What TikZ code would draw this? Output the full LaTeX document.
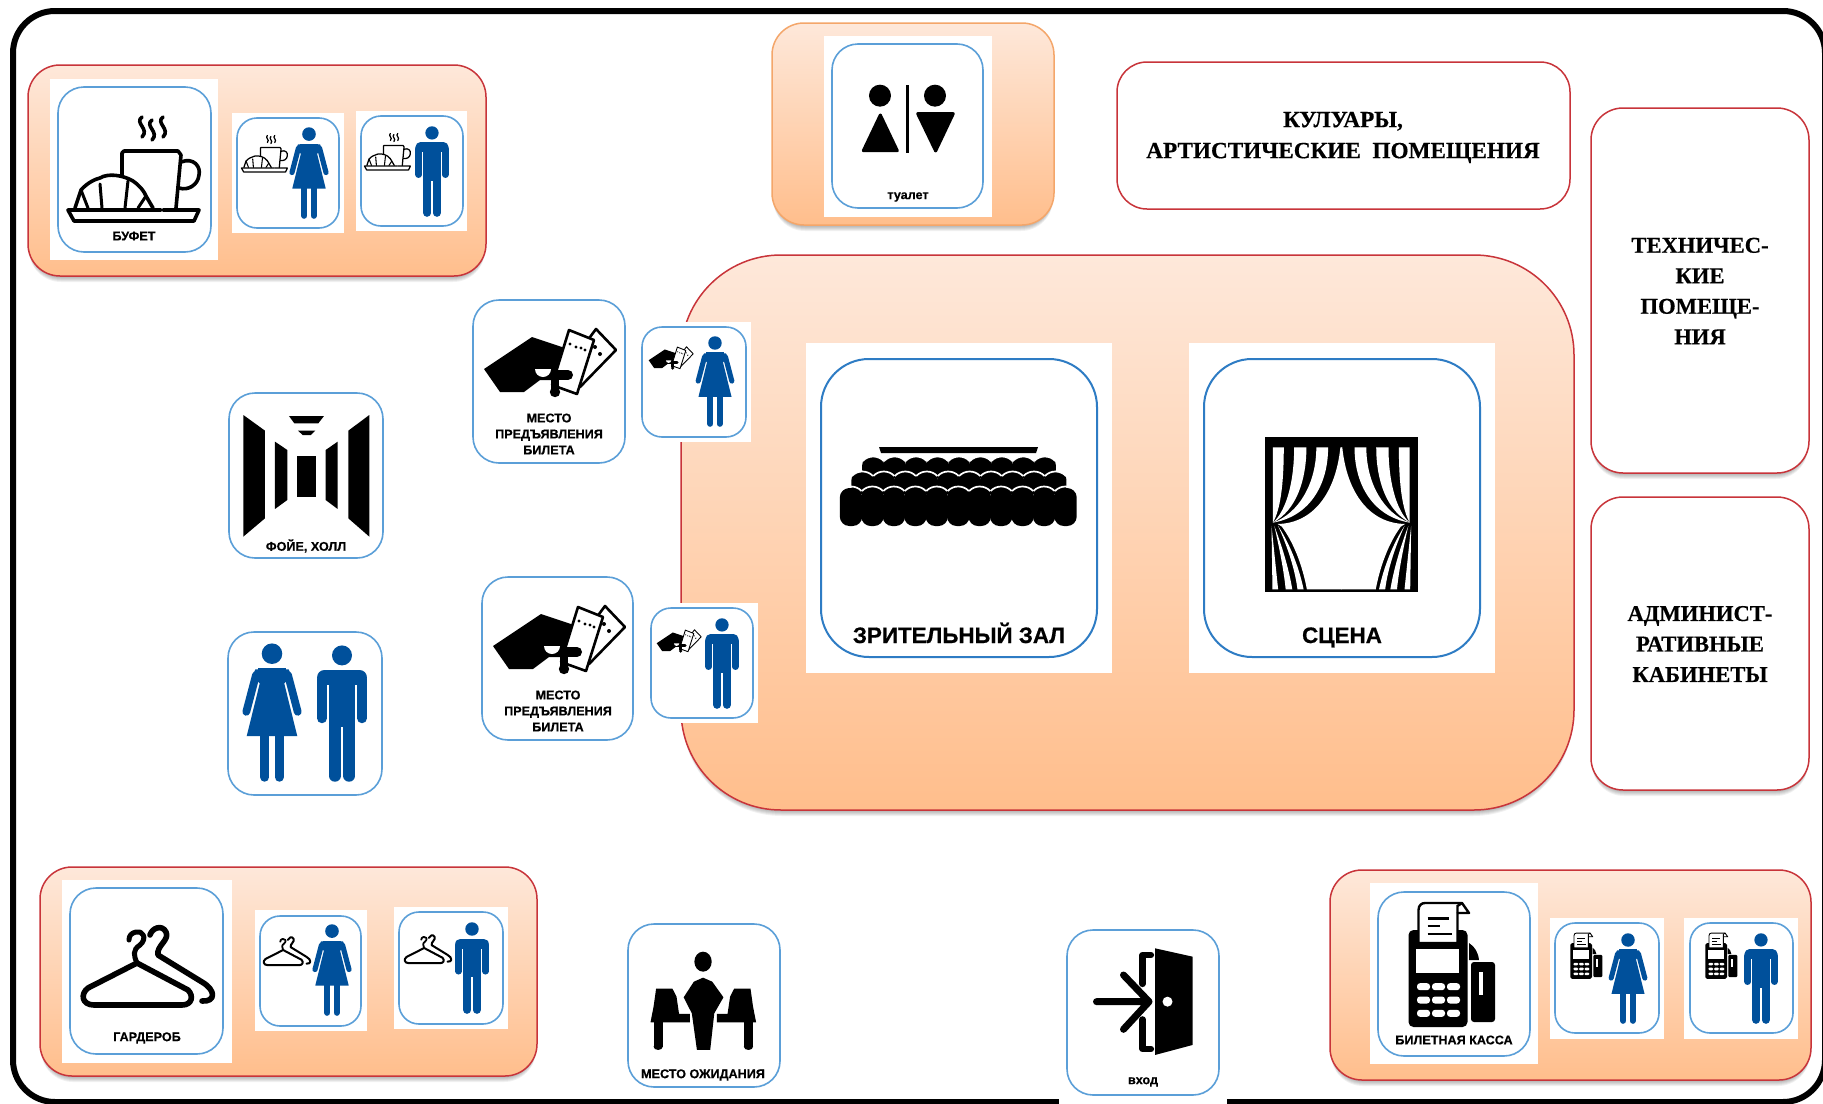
\documentclass[tikz,border=0pt]{standalone}
\usepackage{fontspec}
\setmainfont{Liberation Sans}
\newfontfamily\heavyfam{Liberation Sans Bold}[FakeBold=0.6]
\newfontfamily\timesfam{Liberation Serif Bold}[FakeBold=0.5]
\usetikzlibrary{calc}
\definecolor{zonered}{HTML}{C8343A}
\definecolor{zonetop}{HTML}{FEE8DA}
\definecolor{zonebot}{HTML}{FFBE8C}
\definecolor{zoneorange}{HTML}{F4A66A}
\definecolor{cardblue}{HTML}{5B9FD8}
\definecolor{bigblue}{HTML}{2E7CC4}
\definecolor{figblue}{HTML}{00509B}
\tikzset{
  zonebox/.style={draw=zonered,line width=1.5pt,top color=zonetop,bottom color=zonebot},
  orangebox/.style={draw=zoneorange,line width=1.5pt,top color=zonetop,bottom color=zonebot},
  roombox/.style={draw=zonered,line width=1.5pt,fill=white},
  cardbox/.style={draw=cardblue,line width=1.6pt,fill=white},
  bigcard/.style={draw=bigblue,line width=2pt,fill=white},
  lab/.style={inner sep=0pt,align=center,font=\heavyfam\fontsize{12.6}{16}\selectfont},
  biglab/.style={inner sep=0pt,anchor=base,font=\heavyfam\fontsize{22.4}{24}\selectfont},
  roomlab/.style={inner sep=0pt,font=\timesfam\fontsize{22.6}{30.5}\selectfont},
  ink/.style={line cap=round,line join=round},
}
\newcommand{\softshadow}[5]{%
  \foreach \off in {1,2,3,4,5,6}{
    \fill[black,opacity=0.055,rounded corners=#5pt] ($(#1,#2)+(1,\off)$) rectangle ($(#3,#4)+(-1,\off)$);
  }}
\newcommand{\woman}[3]{%
  \pgfmathsetmacro\ics{#3/100}
  \begin{scope}[shift={(#1,#2)},scale=\ics,figblue]
    \fill[figblue] (0,7.7) circle (7.4);
    \fill[figblue] (-12,19)--(12,19)--(14,24)--(8.8,29)--(18.2,67)--(-18.2,67)--(-8.8,29)--(-14,24)--cycle;
    \fill[figblue] (-10,18) rectangle (10,22);
    \draw[figblue,ink,line width=5.6pt*\ics] (-11.5,23)--(-18.5,49.5);
    \draw[figblue,ink,line width=5.6pt*\ics] (11.5,23)--(18.5,49.5);
    \draw[figblue,ink,line width=6.6pt*\ics] (-5.2,66)--(-5.2,96.5);
    \draw[figblue,ink,line width=6.6pt*\ics] (5.2,66)--(5.2,96.5);
  \end{scope}}
\newcommand{\man}[3]{%
  \pgfmathsetmacro\ics{#3/100}
  \begin{scope}[shift={(#1,#2)},scale=\ics]
    \fill[figblue] (0,7.6) circle (7.3);
    \draw[figblue,ink,line width=11pt*\ics] (-12.7,23.5)--(12.7,23.5);
    \fill[figblue] (-9.6,22) rectangle (9.6,60);
    \draw[figblue,ink,line width=7.2pt*\ics] (-14.6,25)--(-14.6,53.5);
    \draw[figblue,ink,line width=7.2pt*\ics] (14.6,25)--(14.6,53.5);
    \draw[figblue,ink,line width=8.6pt*\ics] (-5.2,57)--(-5.2,95.5);
    \draw[figblue,ink,line width=8.6pt*\ics] (5.2,57)--(5.2,95.5);
  \end{scope}}
\newcommand{\iconbuffet}[3]{%
  \begin{scope}[shift={(#1,#2)},scale=#3]
    \def\ics{#3}
    \foreach \sx/\sy in {84/30,94/33,105/30}{
      \draw[ink,line width=3.6pt*\ics] (\sx,\sy) .. controls (\sx-8,\sy+6) and (\sx+8,\sy+12) .. (\sx,\sy+20);
    }
    \draw[ink,line width=3.6pt*\ics] (64,100)--(64,66) -- (66,64) -- (120,64) -- (123,68) -- (118,121);
    \draw[ink,line width=3.6pt*\ics] (123,75) .. controls (136,70) and (143,80) .. (141,88) .. controls (140,98) and (130,104) .. (121,101);
    \draw[ink,line width=3.6pt*\ics,fill=white] (17,121) -- (23,103) .. controls (30,95) and (38,92) .. (42,91) .. controls (50,86) and (65,88) .. (75,94) .. controls (82,99) and (86,104) .. (88,109) -- (95,121);
    \draw[ink,line width=3pt*\ics] (23,103)--(30,121) (42,97)--(44,121) (70,94)--(67,121) (88,109)--(80,121);
    \draw[ink,line width=3.6pt*\ics] (105,123)--(141,123)--(136,134)--(16,134)--(10,123)--(103,123);
  \end{scope}}
\newcommand{\iconticket}[3]{%
  \begin{scope}[shift={(#1,#2)},scale=#3]
    \def\ics{#3}
    \draw[line join=round,line width=2.6pt*\ics,fill=white] (123,29)--(143,50)--(107,87)--(100,60)--cycle;
    \fill[black] (122,47) circle (2) (127,54) circle (2);
    \fill[black,line join=round] (11,69)--(59,37)--(92,48)--(85,80)--(67,80)--(51,92)--(27,92)--cycle;
    \draw[line join=round,line width=2.6pt*\ics,fill=white] (96,30)--(121,40)--(104,94)--(79,85)--cycle;
    \fill[black] (97,44) circle (1.7) (103,47) circle (1.7) (108,48) circle (1.7) (112,50) circle (1.7);
    \draw[ink,line width=10pt*\ics] (68,75)--(95,75);
    \fill[black] (82,92) circle (5.2);
    \fill[black] (78,76) rectangle (86,90);
    \fill[white] (62,69) arc (180:0:8) -- cycle;
  \end{scope}}
\newcommand{\iconhanger}[3]{%
  \begin{scope}[shift={(#1,#2)},scale=#3]
    \def\ics{#3}
    \draw[ink,line width=5.6pt*\ics] (80,47) .. controls (82,40) and (92,36) .. (96,44) .. controls (100,52) and (86,58) .. (88,67) -- (132,94) .. controls (146,102) and (146,114) .. (132,113);
    \draw[ink,line width=5.6pt*\ics] (67,75) -- (118,102) .. controls (124,108) and (122,117) .. (112,117) -- (24,117) .. controls (12,117) and (10,106) .. (18,100) -- cycle;
    \draw[ink,line width=5pt*\ics] (67,75) .. controls (64,68) and (62,62) .. (70,57) .. controls (78,50) and (72,42) .. (66,44) .. controls (61,45) and (59,48) .. (59,52);
  \end{scope}}
\newcommand{\iconpos}[3]{%
  \begin{scope}[shift={(#1,#2)},scale=#3]
    \def\ics{#3}
    \fill[black] (91,51) .. controls (97,55) and (100,60) .. (101,68) -- (91,68) -- cycle;
    \fill[black,rounded corners=3pt*\ics] (93,70) rectangle (117,130);
    \fill[white] (100.5,80) rectangle (104.5,103);
    \fill[black,rounded corners=5pt*\ics] (30.5,38) rectangle (89.5,135);
    \fill[white] (38,57) rectangle (81,81);
    \foreach \ky in {94.7,108,121.3}{
      \foreach \kx in {45.5,60.5,75.5}{
        \fill[white,rounded corners=3pt*\ics] (\kx-6.5,\ky-3.5) rectangle (\kx+6.5,\ky+3.5);
      }}
    \draw[line join=round,line width=2.4pt*\ics,fill=white] (40.5,51) -- (40.5,18) .. controls (40.5,13) and (44,11) .. (47,11) -- (84,11) -- (91,21) -- (79.5,21) -- (79.5,51) -- cycle;
    \draw[line width=2.4pt*\ics] (79.5,21)--(79.5,14) -- (84,11);
    \draw[line width=2.4pt*\ics] (49.5,26.3)--(71,26.3) (49.5,34)--(62,34) (49.5,42)--(74,42);
  \end{scope}}
\begin{document}
\begin{tikzpicture}[x=1pt,y=-1pt]
\useasboundingbox (0,0) rectangle (1823,1103);
\clip (0,0) rectangle (1823,1103);
\fill[white] (0,0) rectangle (1823,1103);
% outer frame
\draw[black,line width=6pt,rounded corners=42pt] (13,11) rectangle (1825,1102);
\fill[white] (1059,1098) rectangle (1227,1104);

% zones
\softshadow{681}{255}{1574}{810}{100}
\draw[zonebox,rounded corners=100pt] (681,255) rectangle (1574,810);
\softshadow{28}{65}{486}{276}{32}
\draw[zonebox,rounded corners=32pt] (28,65) rectangle (486,276);
\softshadow{40}{867}{537}{1076}{32}
\draw[zonebox,rounded corners=32pt] (40,867) rectangle (537,1076);
\softshadow{1330}{870}{1811}{1080}{32}
\draw[zonebox,rounded corners=32pt] (1330,870) rectangle (1811,1080);
\softshadow{772}{23}{1054}{225}{32}
\draw[orangebox,rounded corners=32pt] (772,23) rectangle (1054,225);
% rooms
\draw[roombox,rounded corners=30pt] (1117,62) rectangle (1570,209);
\softshadow{1591}{108}{1809}{473}{32}
\draw[roombox,rounded corners=32pt] (1591,108) rectangle (1809,473);
\softshadow{1591}{497}{1809}{790}{32}
\draw[roombox,rounded corners=32pt] (1591,497) rectangle (1809,790);
\node[roomlab,align=center,font=\timesfam\fontsize{23.2}{31}\selectfont] (corridor) at (1343,137.5) {КУЛУАРЫ,\\АРТИСТИЧЕСКИЕ\ \ ПОМЕЩЕНИЯ};
\node[roomlab,align=center] (tech) at (1700,291) {ТЕХНИЧЕС-\\КИЕ\\ПОМЕЩЕ-\\НИЯ};
\node[roomlab,align=center] (admin) at (1700,644) {АДМИНИСТ-\\РАТИВНЫЕ\\КАБИНЕТЫ};

% white patches
\fill[white] (50,79) rectangle (218,260);
\fill[white] (232,113) rectangle (344,233);
\fill[white] (356,111) rectangle (467,231);
\fill[white] (637,322) rectangle (751,442);
\fill[white] (644,603) rectangle (758,723);
\fill[white] (806,343) rectangle (1112,673);
\fill[white] (1189,343) rectangle (1495,673);
\fill[white] (62,880) rectangle (232,1063);
\fill[white] (255,910) rectangle (367,1031);
\fill[white] (394,907) rectangle (508,1029);
\fill[white] (1370,883) rectangle (1538,1064);
\fill[white] (1550,918) rectangle (1664,1039);
\fill[white] (1684,918) rectangle (1798,1039);
\fill[white] (824,36) rectangle (992,217);

% cards
\draw[cardbox,rounded corners=26pt] (58,87) rectangle (211,252);
\draw[cardbox,rounded corners=20pt] (237,118) rectangle (339,228);
\draw[cardbox,rounded corners=20pt] (361,116) rectangle (463,226);
\draw[cardbox,rounded corners=26pt] (473,300) rectangle (625,463);
\draw[cardbox,rounded corners=20pt] (642,327) rectangle (746,437);
\draw[cardbox,rounded corners=26pt] (482,577) rectangle (633,740);
\draw[cardbox,rounded corners=20pt] (651,608) rectangle (753,718);
\draw[cardbox,rounded corners=26pt] (229,393) rectangle (383,558);
\draw[cardbox,rounded corners=26pt] (228,632) rectangle (382,795);
\draw[bigcard,rounded corners=48pt] (821,359) rectangle (1097,657);
\draw[bigcard,rounded corners=48pt] (1204,359) rectangle (1480,657);
\draw[cardbox,rounded corners=26pt] (70,888) rectangle (223,1054);
\draw[cardbox,rounded corners=20pt] (260,916) rectangle (361,1026);
\draw[cardbox,rounded corners=20pt] (399,912) rectangle (503,1024);
\draw[cardbox,rounded corners=26pt] (628,924) rectangle (780,1087);
\draw[cardbox,rounded corners=26pt] (1067,930) rectangle (1219,1095);
\draw[cardbox,rounded corners=26pt] (1378,892) rectangle (1530,1056);
\draw[cardbox,rounded corners=20pt] (1555,923) rectangle (1659,1033);
\draw[cardbox,rounded corners=20pt] (1690,923) rectangle (1793,1033);
\draw[cardbox,rounded corners=26pt] (832,44) rectangle (983,208);

% buffet
\iconbuffet{58}{87}{1}
\node[lab] (buffetlab) at (134,236) {БУФЕТ};
\iconbuffet{238}{125}{0.35}
\woman{309}{127}{92}
\iconbuffet{361}{123}{0.35}
\man{432}{126}{91}

% tickets
\iconticket{473}{300}{1}
\node[lab] (ticketlabA) at (549,434) {МЕСТО\\ПРЕДЪЯВЛЕНИЯ\\БИЛЕТА};
\iconticket{645}{337}{0.337}
\woman{715}{336}{91}
\iconticket{482}{577}{1}
\node[lab] (ticketlabB) at (558,711) {МЕСТО\\ПРЕДЪЯВЛЕНИЯ\\БИЛЕТА};
\iconticket{653}{620}{0.337}
\man{722}{618}{91}

% foyer
\begin{scope}[shift={(210,380)},scale=0.3333]
  \fill[black] (100,105)--(165,152)--(165,415)--(100,470)--cycle;
  \fill[black] (478,105)--(415,152)--(415,415)--(478,470)--cycle;
  \fill[black] (195,185)--(232,210)--(232,360)--(195,387)--cycle;
  \fill[black] (383,185)--(347,210)--(347,360)--(383,387)--cycle;
  \fill[black] (262,227) rectangle (318,350);
  \fill[black] (237,108)--(342,108)--(325,130)--(253,130)--cycle;
  \fill[black] (264,152)--(316,152)--(303,165)--(278,165)--cycle;
\end{scope}
\node[lab] (foyerlab) at (306,546) {ФОЙЕ, ХОЛЛ};

% couple
\woman{272}{643}{139}
\man{342}{645}{137}

% seats
\fill[black] (879,447)--(1038,447)--(1036,453)--(881,453)--cycle;
\foreach \i in {0,...,8}{
  \pgfmathsetmacro\cx{873.2+21.45*\i}
  \fill[black,rounded corners=8pt] (\cx-11,457) rectangle (\cx+11,478);
}
\foreach \i in {0,...,8}{
  \pgfmathsetmacro\cx{873.2+21.45*\i}
  \draw[white,line width=1.7pt] (\cx-10.5,461) .. controls (\cx-5,455) and (\cx+5,455) .. (\cx+10.5,461);
}
\foreach \i in {0,...,9}{
  \pgfmathsetmacro\cx{862.4+21.45*\i}
  \fill[black,rounded corners=8pt] (\cx-11,472) rectangle (\cx+11,494);
}
\foreach \i in {0,...,9}{
  \pgfmathsetmacro\cx{862.4+21.45*\i}
  \draw[white,line width=1.7pt] (\cx-10.5,476) .. controls (\cx-5,470) and (\cx+5,470) .. (\cx+10.5,476);
}
\foreach \i in {0,...,10}{
  \pgfmathsetmacro\cx{851+21.45*\i}
  \fill[black,rounded corners=9.5pt] (\cx-11.2,488) rectangle (\cx+11.2,526);
}
\foreach \i in {0,...,10}{
  \pgfmathsetmacro\cx{851+21.45*\i}
  \draw[white,line width=1.7pt] (\cx-10.5,491) .. controls (\cx-5,485) and (\cx+5,485) .. (\cx+10.5,491);
}
\node[biglab] (halllab) at (959,643) {ЗРИТЕЛЬНЫЙ ЗАЛ};

% curtain
\begin{scope}[shift={(780,330)},xscale=0.4717,yscale=0.3333]
  \fill[black] (1028,320) rectangle (1352,785);
  \foreach \mir/\msh in {1/0,-1/2380}{
    \begin{scope}[shift={(\msh,0)},xscale=\mir]
      \fill[white] (1045,352)--(1068,352) .. controls (1068,470) and (1060,540) .. (1045,578) -- cycle;
      \fill[white] (1090,352) .. controls (1090,450) and (1075,540) .. (1045,578) .. controls (1095,540) and (1116,450) .. (1116,352) -- cycle;
      \fill[white] (1137,352) .. controls (1137,460) and (1100,550) .. (1045,578) .. controls (1120,560) and (1162,470) .. (1162,352) -- cycle;
      \fill[white] (1188,352) .. controls (1178,490) and (1130,580) .. (1055,582) -- (1064,590) .. controls (1090,640) and (1108,710) .. (1117,778) -- (1190.5,778) -- (1190.5,352) -- cycle;
      \fill[white] (1042,588) -- (1044,778) -- (1056,778) -- cycle;
      \fill[white] (1048,588) .. controls (1058,650) and (1068,720) .. (1072,778) -- (1086,778) .. controls (1078,710) and (1062,640) .. (1048,588) -- cycle;
      \fill[white] (1056,588) .. controls (1076,650) and (1092,720) .. (1097,778) -- (1110,778) .. controls (1100,710) and (1080,640) .. (1056,588) -- cycle;
    \end{scope}
  }
\end{scope}
\node[biglab] (stagelab) at (1342,643) {СЦЕНА};

% wardrobe
\iconhanger{70}{888}{1}
\node[lab] (wardlab) at (147,1038) {ГАРДЕРОБ};
\iconhanger{259}{923}{0.36}
\woman{332}{924}{92}
\iconhanger{400}{921}{0.36}
\man{472}{922}{92}

% waiting
\begin{scope}[shift={(0,850)},xscale=0.5102,yscale=0.3333]
  \fill[black] (1378,335) ellipse (17 and 30);
  \fill[black,line join=round] (1378,383) -- (1396,395) -- (1418,442) -- (1400,490) -- (1392,600) -- (1366,600) -- (1356,490) -- (1340,442) -- (1360,395) -- cycle;
  \foreach \mir/\msh in {1/0,-1/2757}{
    \begin{scope}[shift={(\msh,0)},xscale=\mir]
      \fill[black] (1286,416)--(1318,416)--(1326,440)--(1331,492)--(1352,492)--(1352,517)--(1275,517)--(1281,470)--cycle;
      \fill[black] (1281,515) rectangle (1299,590);
      \fill[black] (1290,590) ellipse (9 and 10);
    \end{scope}
  }
\end{scope}
\node[lab] (waitlab) at (703,1075) {МЕСТО ОЖИДАНИЯ};

% entrance
\begin{scope}[shift={(1040,850)},xscale=0.5,yscale=0.3333]
  \fill[black] (230,295)--(305,320)--(305,585)--(230,615)--cycle;
  \fill[white] (255,455) ellipse (10 and 15);
  \draw[ink,line width=6.2pt] (222,315)--(205,315)--(205,402);
  \draw[ink,line width=6.2pt] (205,508)--(205,597)--(222,597);
  \draw[ink,line width=7pt] (113,455)--(210,455) (167,375)--(218,455)--(167,538);
\end{scope}
\node[lab] (entrylab) at (1143,1082) {вход};

% ticket office
\iconpos{1378}{892}{1}
\node[lab] (poslab) at (1454,1040) {БИЛЕТНАЯ КАССА};
\iconpos{1559}{929}{0.37}
\woman{1628}{933}{91}
\iconpos{1694}{929}{0.37}
\man{1761}{933}{91}

% toilet
\begin{scope}[shift={(760,0)},scale=0.3333]
  \fill[black] (360,287) circle (33) (525,287) circle (33);
  \filldraw[black,line join=round,line width=3pt] (361,345)--(412,452)--(310,452)--cycle;
  \filldraw[black,line join=round,line width=3pt] (473,341)--(580,341)--(527,453)--cycle;
  \fill[black] (439,255) rectangle (447,458);
\end{scope}
\node[lab] (toiletlab) at (908,197) {туалет};
\end{tikzpicture}
\end{document}
